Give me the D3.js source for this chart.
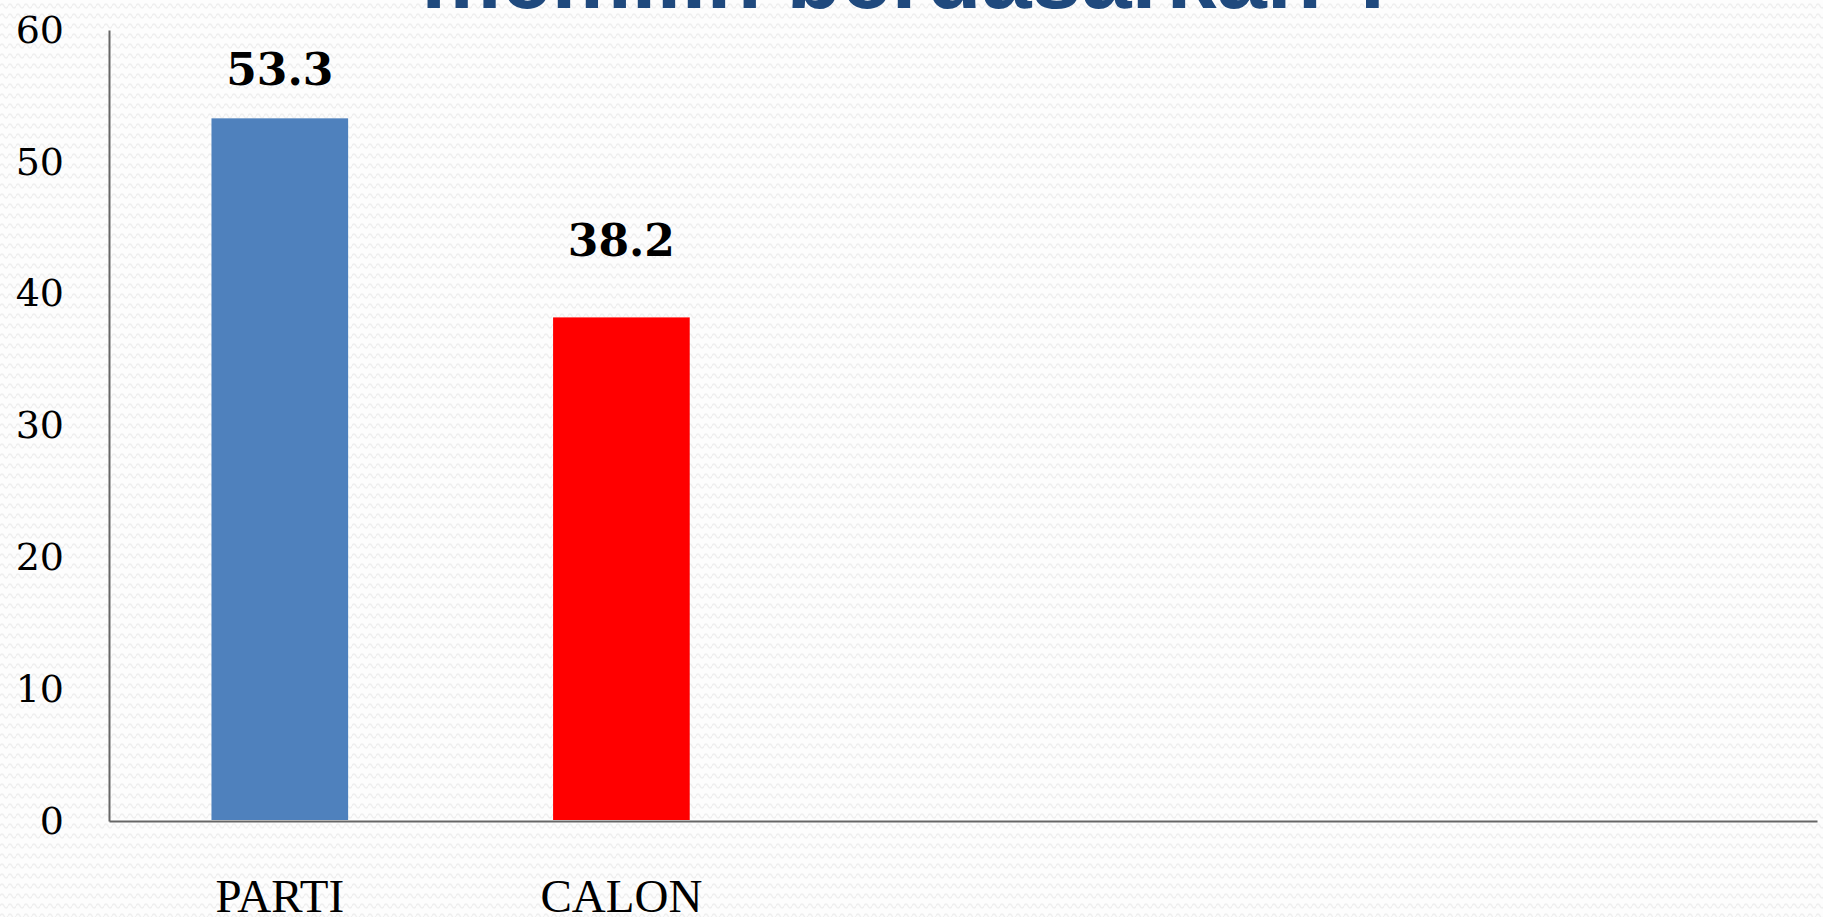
<!DOCTYPE html>
<meta charset="utf-8">
<script src="https://d3js.org/d3.v7.min.js"></script>
<style>
  body { margin: 0; overflow: hidden; background: #fff; }
</style>
<div id="chart"></div>
<script>

    // Chart data
    const categories = ["PARTI", "CALON", "", "", ""];
    const values = [53.3, 38.2, null, null, null];
    const barColors = ["#4F81BD", "#FF0000", "#000", "#000", "#000"];
    const yTicks = [0, 10, 20, 30, 40, 50, 60];
    const titleText = "memilih berdasarkan ?";

    const W = 1823, H = 917;
    const margin = { top: 30, right: 6, bottom: 96, left: 109 },
        width = W - margin.left - margin.right,
        height = H - margin.top - margin.bottom;

    const root = d3.select("#chart")
        .append("svg")
        .attr("width", W)
        .attr("height", H);

    // light wavy background texture
    const pat = root.append("defs").append("pattern")
        .attr("id", "wave")
        .attr("patternUnits", "userSpaceOnUse")
        .attr("width", 8)
        .attr("height", 10);
    pat.append("rect").attr("width", 8).attr("height", 10).attr("fill", "#fdfdfd");
    pat.append("path")
        .attr("d", "M0,6 Q2,2 4,6 T8,6")
        .attr("fill", "none")
        .attr("stroke", "#efefef")
        .attr("stroke-width", 1.4);
    root.append("rect").attr("width", W).attr("height", H).attr("fill", "url(#wave)");

    // title (only its last line shows, clipped at the top)
    root.append("text")
        .attr("x", W / 2)
        .attr("y", 8)
        .attr("text-anchor", "middle")
        .style("font-family", "'Liberation Sans', Arial, sans-serif")
        .style("font-weight", "bold")
        .style("font-size", "90px")
        .style("fill", "#1F497D")
        .text(titleText);

    const svg = root.append("g")
        .attr("transform", `translate(${margin.left},${margin.top})`);

    // scales
    const x = d3.scaleBand()
        .domain(d3.range(categories.length))
        .range([0, width])
        .paddingInner(0.6)
        .paddingOuter(0.3);

    const y = d3.scaleLinear()
        .domain([0, 60])
        .range([height, 0]);

    // y axis
    const yAxis = svg.append("g")
        .call(d3.axisLeft(y).tickValues(yTicks).tickSize(0).tickSizeOuter(0).tickPadding(45));
    yAxis.select(".domain").attr("stroke", "#666").attr("stroke-width", 2);
    yAxis.selectAll("text")
        .style("font-family", "'DejaVu Serif', serif")
        .style("font-size", "38px")
        .style("fill", "#000");

    // x axis
    const xAxis = svg.append("g")
        .attr("transform", `translate(0,${height})`)
        .call(d3.axisBottom(x).tickSize(0).tickSizeOuter(0).tickPadding(58)
            .tickFormat(i => categories[i]));
    xAxis.select(".domain").attr("stroke", "#666").attr("stroke-width", 2);
    xAxis.selectAll("text")
        .style("font-family", "'Liberation Serif', 'Times New Roman', serif")
        .style("font-size", "47px")
        .style("fill", "#000");

    const barData = values.map((v, i) => ({ i: i, v: v })).filter(d => d.v !== null);

    // bars
    svg.selectAll(".bar")
        .data(barData)
        .join("rect")
        .attr("class", "bar")
        .attr("x", d => x(d.i))
        .attr("width", x.bandwidth())
        .attr("y", d => y(d.v))
        .attr("height", d => height - y(d.v) - 1)
        .attr("fill", d => barColors[d.i]);

    // value labels (kept inside the plot area)
    svg.selectAll(".lbl")
        .data(barData)
        .join("text")
        .attr("class", "lbl")
        .attr("x", d => x(d.i) + x.bandwidth() / 2)
        .attr("y", d => Math.max(y(d.v) - 61, 55))
        .attr("text-anchor", "middle")
        .style("font-family", "'DejaVu Serif', serif")
        .style("font-weight", "bold")
        .style("font-size", "44px")
        .style("fill", "#000")
        .text(d => d.v.toFixed(1));

</script>
